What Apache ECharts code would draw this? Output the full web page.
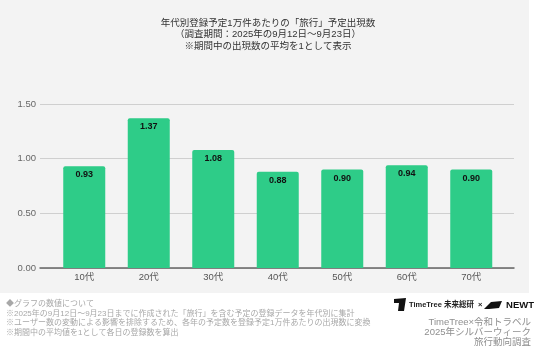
<!DOCTYPE html>
<html>
<head>
<meta charset="utf-8">
<script src="https://cdn.jsdelivr.net/npm/echarts@6/dist/echarts.min.js"></script>
<style>
  html, body { margin: 0; padding: 0; background: #ffffff; }
  #chart { width: 536px; height: 354px; }
</style>
</head>
<body>
<div id="chart"></div>
<script>
// 年代カテゴリ
const categories = ['10代', '20代', '30代', '40代', '50代', '60代', '70代'];
// 出現数（平均=1）
const values = [0.93, 1.37, 1.08, 0.88, 0.90, 0.94, 0.90];
// 縦軸
const yMin = 0;
const yMax = 1.5;
const yStep = 0.5;

const titleLines = [
  '年代別登録予定1万件あたりの「旅行」予定出現数',
  '（調査期間：2025年の9月12日～9月23日）',
  '※期間中の出現数の平均を1として表示',
];
const noteLines = [
  '◆グラフの数値について',
  '※2025年の9月12日～9月23日までに作成された「旅行」を含む予定の登録データを年代別に集計',
  '※ユーザー数の変動による影響を排除するため、各年の予定数を登録予定1万件あたりの出現数に変換',
  '※期間中の平均値を1として各日の登録数を算出',
];
const creditLines = ['TimeTree×令和トラベル', '2025年シルバーウィーク', '旅行動向調査'];

const font = '"Liberation Sans", "Noto Sans CJK JP", sans-serif';
const chart = echarts.init(document.getElementById('chart'));

const graphic = [
  { type: 'rect', z: -10, shape: { x: 0, y: 0, width: 529, height: 293 }, style: { fill: '#f3f3f3' } },
];
titleLines.forEach((t, i) => {
  graphic.push({
    type: 'text', x: 268, y: 23 + i * 11.5,
    style: { text: t, fill: '#333', font: '9.5px ' + font, textAlign: 'center', textVerticalAlign: 'middle' },
  });
});
noteLines.forEach((t, i) => {
  graphic.push({
    type: 'text', x: 6, y: 304 + i * 9.6,
    style: { text: t, fill: '#a8a8a8', font: '8px ' + font, textVerticalAlign: 'middle' },
  });
});
creditLines.forEach((t, i) => {
  graphic.push({
    type: 'text', x: 531, y: 322 + i * 10.3,
    style: { text: t, fill: '#8f8f8f', font: '9.5px ' + font, textAlign: 'right', textVerticalAlign: 'middle' },
  });
});
// ロゴ部分（テキストで代用）
graphic.push({
  type: 'polygon', shape: { points: [[394, 299], [406, 298], [404, 311], [398, 311], [399, 303], [394, 303]] },
  style: { fill: '#111' },
});
graphic.push({
  type: 'text', x: 409, y: 305,
  style: { text: 'TimeTree 未来総研  ×', fill: '#222', font: 'bold 7.5px ' + font, textVerticalAlign: 'middle' },
});
graphic.push({
  type: 'polygon', shape: { points: [[484, 309], [491, 302], [502, 301], [499, 308], [489, 309]] },
  style: { fill: '#111' },
});
graphic.push({
  type: 'text', x: 534, y: 305,
  style: { text: 'NEWT', fill: '#111', font: 'bold 9.5px ' + font, textAlign: 'right', textVerticalAlign: 'middle' },
});

const option = {
  backgroundColor: '#ffffff',
  animation: false,
  textStyle: { fontFamily: font },
  graphic: graphic,
  grid: [
    { left: 40, right: 22, top: 104, bottom: 86 },
    { left: 52, right: 32.5, top: 104, bottom: 86 },
  ],
  xAxis: [
    {
      gridIndex: 0,
      type: 'category',
      data: [''],
      axisLine: { show: true, lineStyle: { color: '#666', width: 1.5 } },
      axisTick: { show: false },
      axisLabel: { show: false },
    },
    {
      gridIndex: 1,
      type: 'category',
      data: categories,
      axisLine: { show: false },
      axisTick: { show: false },
      axisLabel: { color: '#555', fontSize: 9.5, margin: 5 },
    },
  ],
  yAxis: [
    {
      gridIndex: 0,
      type: 'value',
      min: yMin,
      max: yMax,
      interval: yStep,
      axisLine: { show: false },
      axisTick: { show: false },
      axisLabel: { color: '#666', fontSize: 9.5, margin: 4, formatter: (v) => v.toFixed(2) },
      splitLine: { lineStyle: { color: '#cfcfcf', width: 1 } },
    },
    {
      gridIndex: 1,
      type: 'value',
      min: yMin,
      max: yMax,
      interval: yStep,
      show: false,
      splitLine: { show: false },
    },
  ],
  series: [
    {
      type: 'bar',
      xAxisIndex: 1,
      yAxisIndex: 1,
      data: values,
      barWidth: 42,
      itemStyle: { color: '#2ecc88', borderRadius: [2, 2, 0, 0] },
      label: {
        show: true,
        position: 'insideTop',
        distance: 4,
        color: '#111',
        fontSize: 9,
        fontWeight: 'bold',
        formatter: (p) => p.value.toFixed(2),
      },
    },
  ],
};

chart.setOption(option);
</script>
</body>
</html>
